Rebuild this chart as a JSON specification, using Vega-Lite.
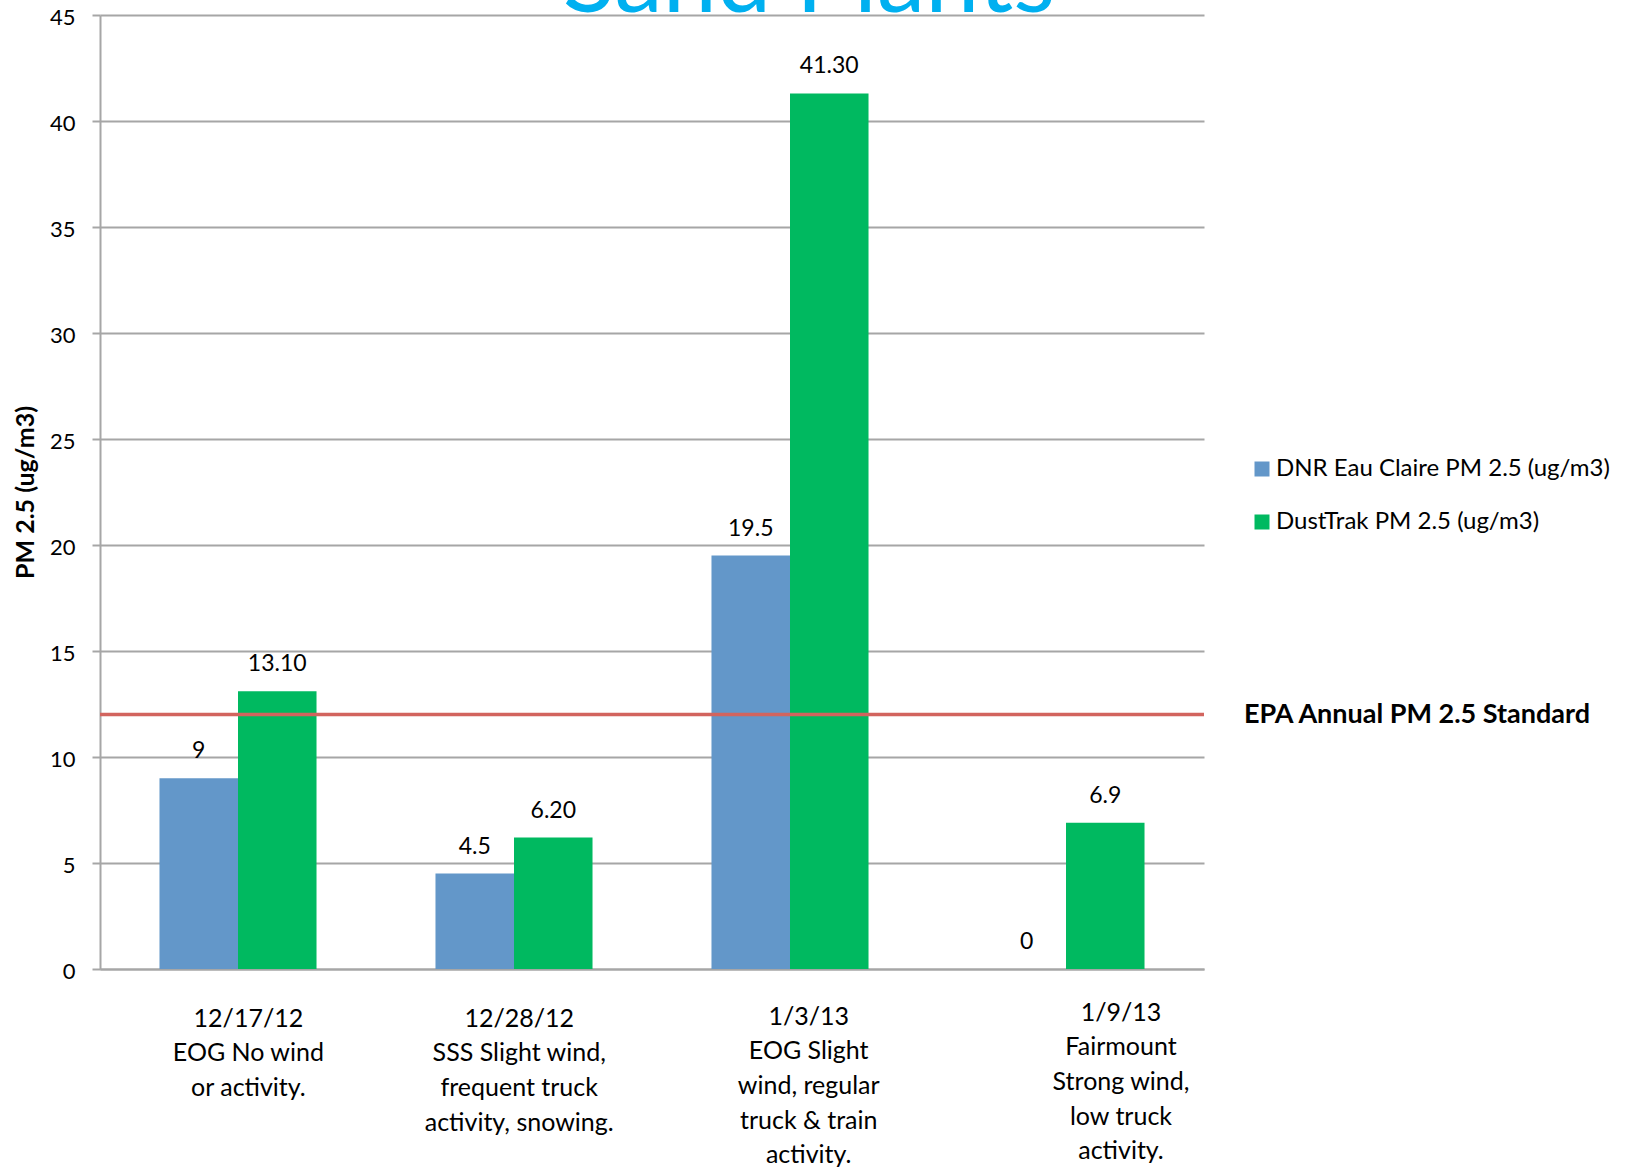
{
  "$schema": "https://vega.github.io/schema/vega-lite/v6.json",
  "width": 1104,
  "height": 954,
  "autosize": {"type": "none"},
  "padding": {"left": 100, "top": 15, "right": 421, "bottom": 198},
  "background": "white",
  "title": {
    "text": "Sand Plants",
    "anchor": "middle",
    "orient": "top",
    "offset": 0,
    "dx": 157,
    "dy": 26,
    "font": "Lato",
    "fontSize": 97,
    "fontWeight": "normal",
    "color": "#00B0F0"
  },
  "config": {
    "font": "Lato",
    "view": {"stroke": null},
    "axis": {"labelColor": "#000000", "titleColor": "#000000"}
  },
  "datasets": {
    "readings": [
      {"site": "12/17/12\nEOG No wind\nor activity.", "series": "DNR Eau Claire PM 2.5 (ug/m3)", "pm25": 9, "label": "9"},
      {"site": "12/17/12\nEOG No wind\nor activity.", "series": "DustTrak PM 2.5 (ug/m3)", "pm25": 13.1, "label": "13.10"},
      {"site": "12/28/12\nSSS Slight wind,\nfrequent truck\nactivity, snowing.", "series": "DNR Eau Claire PM 2.5 (ug/m3)", "pm25": 4.5, "label": "4.5"},
      {"site": "12/28/12\nSSS Slight wind,\nfrequent truck\nactivity, snowing.", "series": "DustTrak PM 2.5 (ug/m3)", "pm25": 6.2, "label": "6.20"},
      {"site": "1/3/13\nEOG Slight\nwind, regular\ntruck & train\nactivity.", "series": "DNR Eau Claire PM 2.5 (ug/m3)", "pm25": 19.5, "label": "19.5"},
      {"site": "1/3/13\nEOG Slight\nwind, regular\ntruck & train\nactivity.", "series": "DustTrak PM 2.5 (ug/m3)", "pm25": 41.3, "label": "41.30"},
      {"site": "1/9/13\nFairmount\nStrong wind,\nlow truck\nactivity.", "series": "DNR Eau Claire PM 2.5 (ug/m3)", "pm25": 0, "label": "0"},
      {"site": "1/9/13\nFairmount\nStrong wind,\nlow truck\nactivity.", "series": "DustTrak PM 2.5 (ug/m3)", "pm25": 6.9, "label": "6.9"}
    ],
    "standard": [
      {"pm25": 12, "name": "EPA Annual PM 2.5 Standard"}
    ]
  },
  "layer": [
    {
      "data": {"name": "readings"},
      "mark": {"type": "bar"},
      "encoding": {
        "x": {
          "field": "site",
          "type": "nominal",
          "sort": null,
          "scale": {"paddingInner": 0.431, "paddingOuter": 0.2155},
          "axis": {
            "title": null,
            "labelExpr": "split(datum.value, '\\n')",
            "labelAngle": 0,
            "labelFontSize": 25,
            "labelLineHeight": 34.7,
            "labelPadding": {
              "condition": [
                {"test": "datum.index > 0.9", "value": 31},
                {"test": "datum.index > 0.5", "value": 35}
              ],
              "value": 37
            },
            "labelOffset": {
              "condition": [
                {"test": "datum.index > 0.9", "value": 55},
                {"test": "datum.index > 0.5", "value": 18.7},
                {"test": "datum.index > 0.2", "value": 5.2}
              ],
              "value": 10.4
            },
            "labelBaseline": "top",
            "labelLimit": 0,
            "labelOverlap": false,
            "ticks": false,
            "domainColor": "#A6A6A6",
            "domainWidth": 2
          }
        },
        "xOffset": {
          "field": "series",
          "type": "nominal",
          "scale": {"paddingInner": 0, "paddingOuter": 0}
        },
        "y": {
          "field": "pm25",
          "type": "quantitative",
          "scale": {"domain": [0, 45], "nice": false},
          "axis": {
            "title": "PM 2.5 (ug/m3)",
            "titleFontSize": 25,
            "titleFontWeight": "bold",
            "titlePadding": 11,
            "values": [0, 5, 10, 15, 20, 25, 30, 35, 40, 45],
            "labelFontSize": 22,
            "labelPadding": 17,
            "labelOffset": 2,
            "tickSize": 8,
            "tickColor": "#A6A6A6",
            "tickWidth": 2,
            "domainColor": "#A6A6A6",
            "domainWidth": 2,
            "grid": true,
            "gridColor": "#A6A6A6",
            "gridWidth": 2
          }
        },
        "color": {
          "field": "series",
          "type": "nominal",
          "scale": {
            "domain": ["DNR Eau Claire PM 2.5 (ug/m3)", "DustTrak PM 2.5 (ug/m3)"],
            "range": ["#6397C9", "#00B960"]
          },
          "legend": {
            "title": null,
            "orient": "none",
            "legendX": 1150,
            "legendY": 442,
            "padding": 0,
            "symbolType": "square",
            "symbolSize": 225,
            "symbolStrokeWidth": 0,
            "labelFontSize": 24,
            "labelColor": "#000000",
            "labelOffset": 2,
            "labelLimit": 0,
            "rowPadding": 29
          }
        }
      }
    },
    {
      "data": {"name": "readings"},
      "mark": {"type": "text", "baseline": "alphabetic", "dy": -20, "fontSize": 23, "color": "#000000"},
      "encoding": {
        "x": {"field": "site", "type": "nominal", "sort": null},
        "xOffset": {"field": "series", "type": "nominal"},
        "y": {"field": "pm25", "type": "quantitative"},
        "text": {"field": "label"}
      }
    },
    {
      "data": {"name": "standard"},
      "mark": {"type": "rule", "color": "#D2645E", "strokeWidth": 3.5},
      "encoding": {
        "y": {"field": "pm25", "type": "quantitative"}
      }
    },
    {
      "data": {"name": "standard"},
      "mark": {"type": "text", "align": "left", "baseline": "middle", "dx": 40, "dy": 0, "fontSize": 27, "fontWeight": "bold", "color": "#000000"},
      "encoding": {
        "x": {"value": "width"},
        "y": {"field": "pm25", "type": "quantitative"},
        "text": {"field": "name"}
      }
    }
  ]
}
